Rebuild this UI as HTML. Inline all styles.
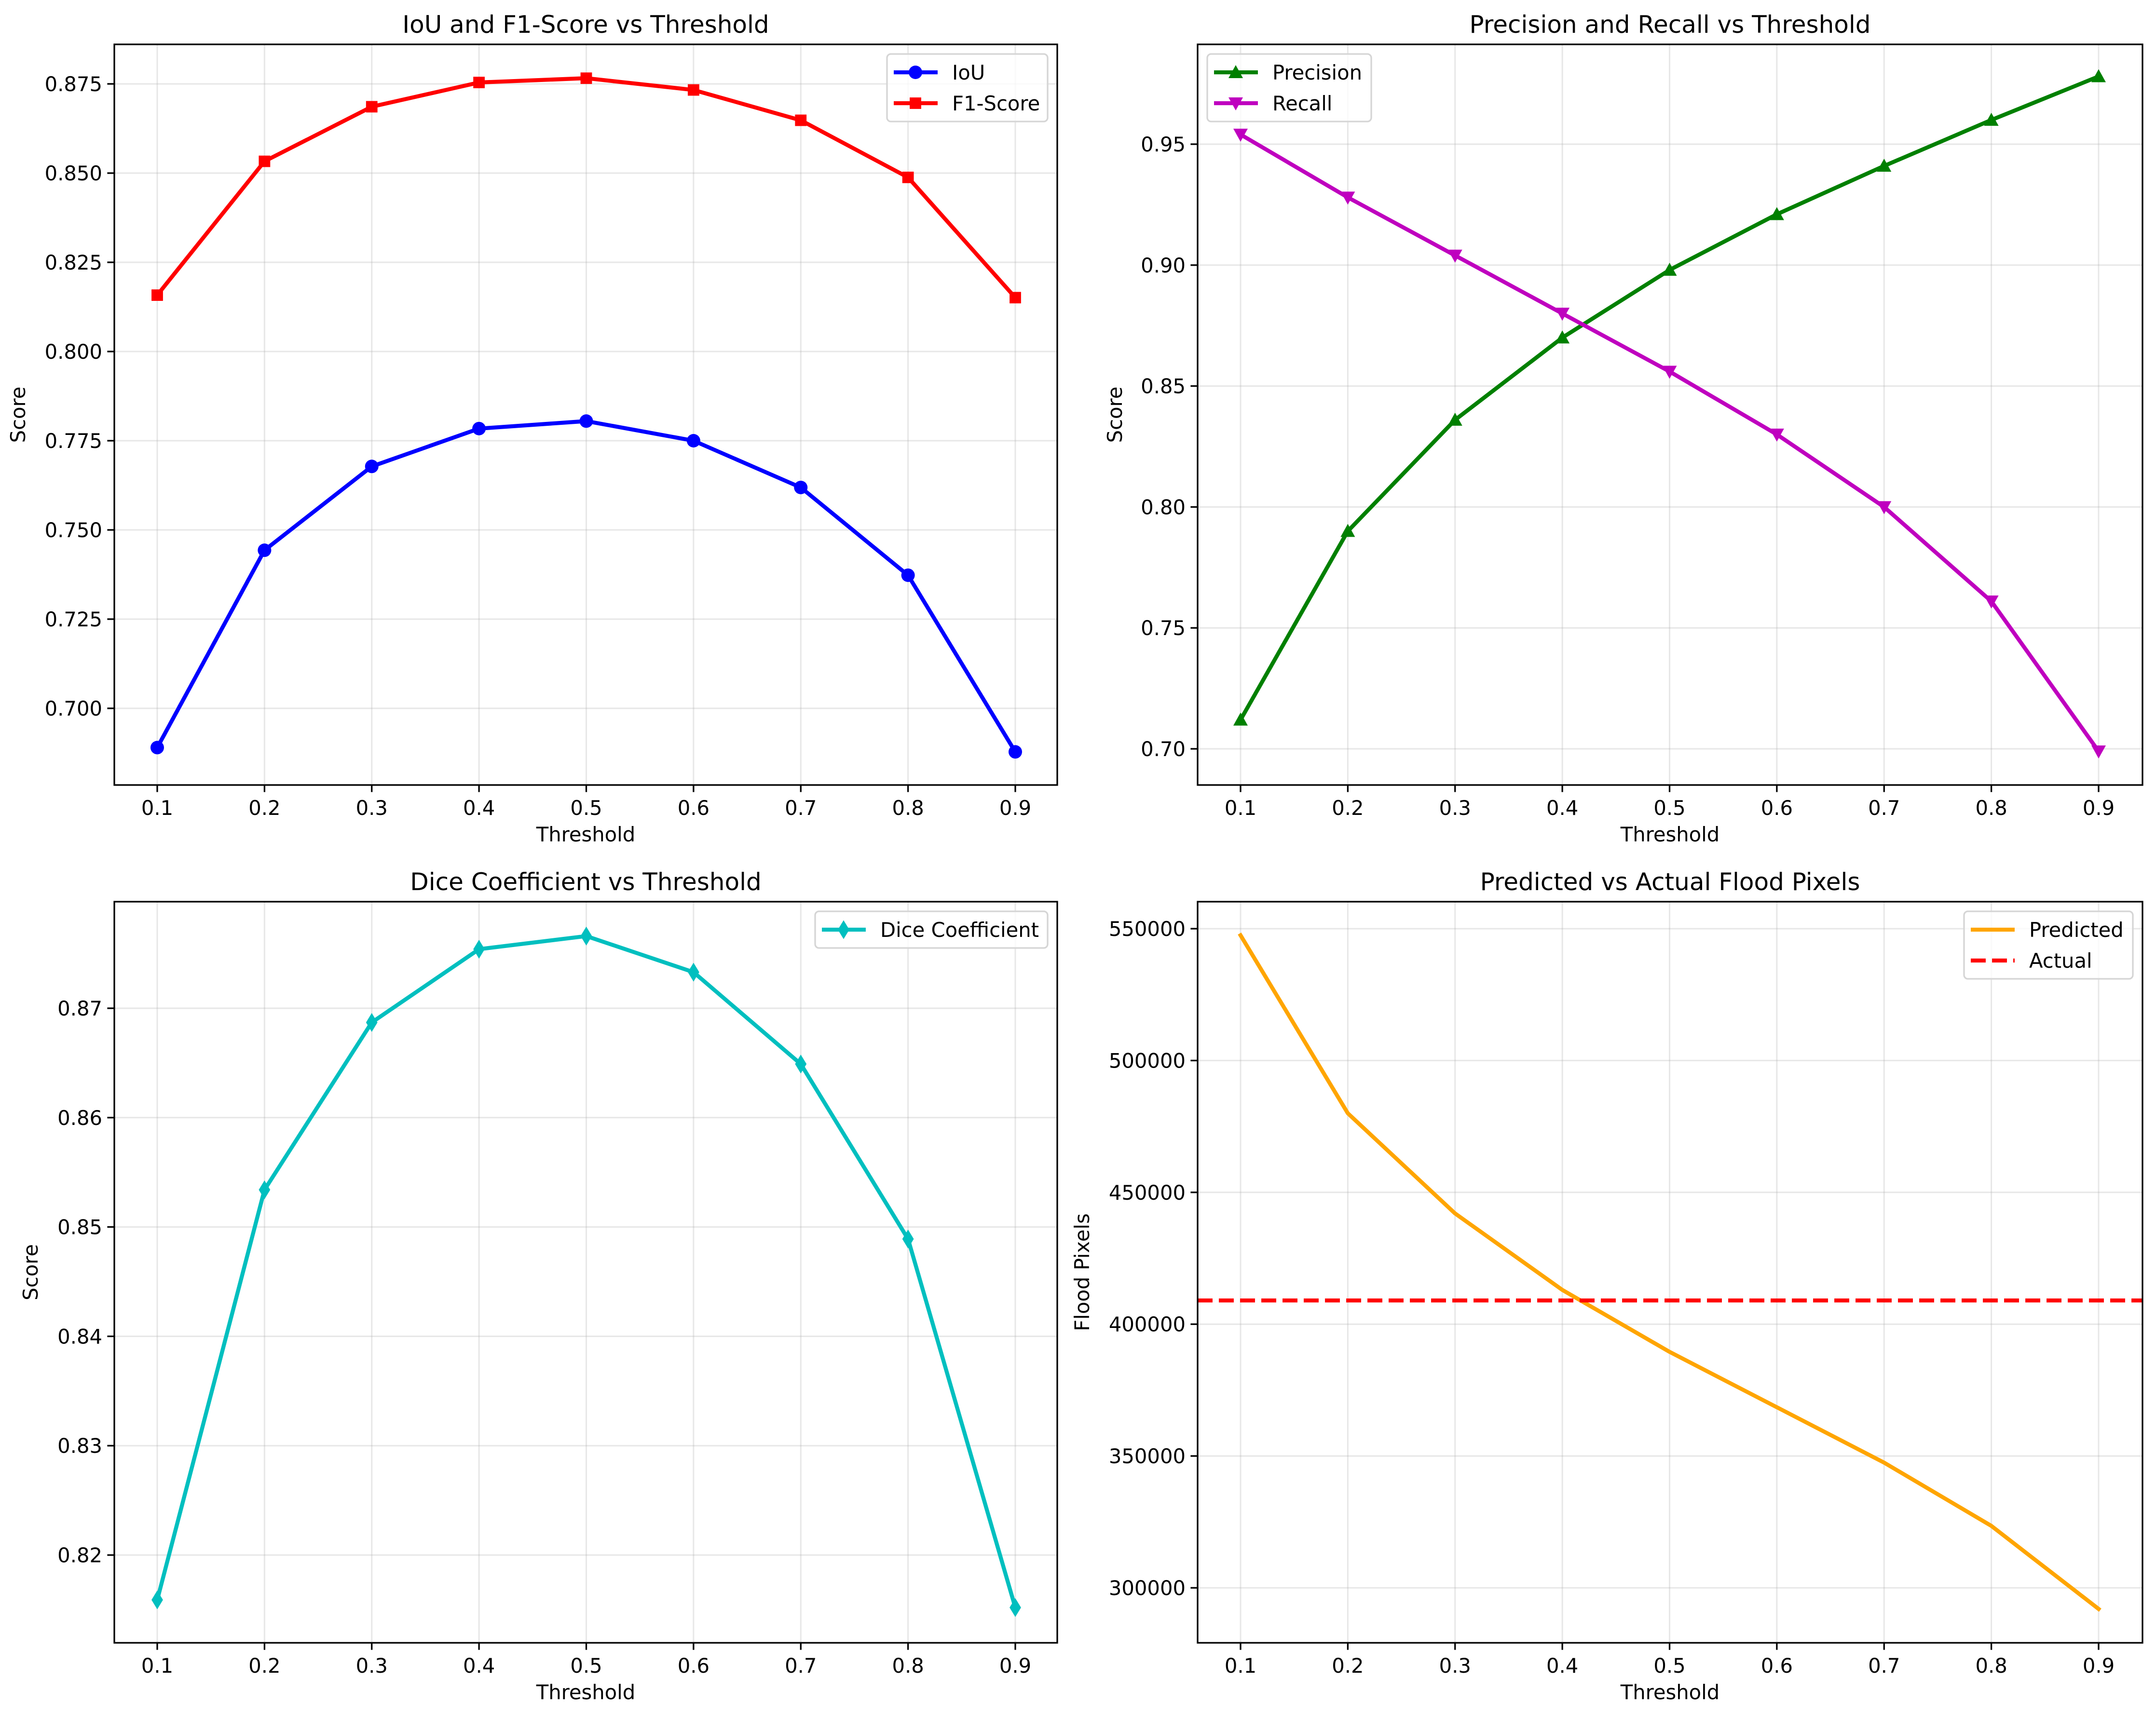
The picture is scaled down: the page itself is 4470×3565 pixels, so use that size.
<!DOCTYPE html>
<html><head><meta charset="utf-8"><style>
html,body{margin:0;padding:0;background:#fff;}
svg{display:block;font-family:"DejaVu Sans","Liberation Sans",sans-serif;}
</style></head><body>
<svg id="fig" width="4470" height="3565" viewBox="0 0 4470 3565" xmlns="http://www.w3.org/2000/svg"></svg>
<script>
const thresholds=[0.1,0.2,0.3,0.4,0.5,0.6,0.7,0.8,0.9];
const iouValues=[0.689,0.7443,0.7678,0.7784,0.7805,0.7750,0.7619,0.7373,0.6878];
const f1Values=[0.8158,0.8533,0.8686,0.8754,0.8766,0.8733,0.8648,0.8488,0.8151];
const precisionValues=[0.712,0.790,0.836,0.870,0.898,0.921,0.941,0.960,0.978];
const recallValues=[0.954,0.928,0.904,0.880,0.856,0.830,0.800,0.761,0.699];
const diceValues=[0.8159,0.8534,0.8687,0.8754,0.8766,0.8733,0.8649,0.8489,0.8152];
const predictedPixels=[547500,480000,442000,413000,389500,368500,347500,323500,292000];
const actualPixels=409000;
const xTickLabels=["0.1","0.2","0.3","0.4","0.5","0.6","0.7","0.8","0.9"];
const yTicks1=[0.700,0.725,0.750,0.775,0.800,0.825,0.850,0.875];
const yTicks2=[0.70,0.75,0.80,0.85,0.90,0.95];
const yTicks3=[0.82,0.83,0.84,0.85,0.86,0.87];
const yTicks4=[300000,350000,400000,450000,500000,550000];

const NS="http://www.w3.org/2000/svg";
const svg=document.getElementById('fig');
function mk(tag,attrs,parent){const e=document.createElementNS(NS,tag);for(const k in attrs)e.setAttribute(k,attrs[k]);(parent||svg).appendChild(e);return e;}
function txt(s,attrs,parent){const e=mk('text',attrs,parent);e.textContent=s;return e;}

function marker(g,type,x,y,color,r){
  let e;
  if(type==='o') e=mk('circle',{cx:x,cy:y,r:r,fill:color},g);
  else if(type==='s') e=mk('rect',{x:x-r*0.85,y:y-r*0.85,width:r*1.7,height:r*1.7,fill:color},g);
  else if(type==='^') e=mk('polygon',{points:`${x},${y-r} ${x-r},${y+r*0.8} ${x+r},${y+r*0.8}`,fill:color},g);
  else if(type==='v') e=mk('polygon',{points:`${x},${y+r} ${x-r},${y-r*0.8} ${x+r},${y-r*0.8}`,fill:color},g);
  else if(type==='d') e=mk('polygon',{points:`${x},${y-r*1.15} ${x+r*0.7},${y} ${x},${y+r*1.15} ${x-r*0.7},${y}`,fill:color},g);
  return e;
}

function panel(cfg){
  const g=mk('g',{});
  
  
  const L=cfg.L,R=cfg.R,T=cfg.T,B=cfg.B;
  const xs=v=>cfg.x0+(v-0.1)/0.8*(cfg.x9-cfg.x0);
  const ys=v=>cfg.ya+(v-cfg.va)/(cfg.vb-cfg.va)*(cfg.yb-cfg.ya);
  thresholds.forEach((t,i)=>{
    const gl=mk('line',{x1:xs(t),x2:xs(t),y1:T,y2:B,stroke:'#b0b0b0','stroke-opacity':0.3,'stroke-width':3},g);
    
    
  });
  cfg.yTicks.forEach(v=>{
    const gl=mk('line',{x1:L,x2:R,y1:ys(v),y2:ys(v),stroke:'#b0b0b0','stroke-opacity':0.3,'stroke-width':3},g);
    
    
  });
  cfg.series.forEach(s=>{
    const sg=mk('g',{},g);
    
    
    if(s.constant!==undefined){
      const l=mk('line',{x1:L,x2:R,y1:ys(s.constant),y2:ys(s.constant),stroke:s.color,'stroke-width':8.3,'stroke-dasharray':'31 13'},sg);
      
      
      return;
    }
    const pts=s.values.map((v,i)=>xs(thresholds[i])+','+ys(v)).join(' ');
    const pl=mk('polyline',{points:pts,fill:'none',stroke:s.color,'stroke-width':8.3,'stroke-linejoin':'round','stroke-linecap':'square'},sg);
    
    
    if(s.marker){
      s.values.forEach((v,i)=>{
        const m=marker(sg,s.marker,xs(thresholds[i]),ys(v),s.color,s.r||13);
        
        
      });
    }
  });
  const sp=mk('rect',{x:L,y:T,width:R-L,height:B-T,fill:'none',stroke:'#000','stroke-width':3.3},g);
  
  
  thresholds.forEach((t,i)=>{
    mk('line',{x1:xs(t),x2:xs(t),y1:B,y2:B+14.6,stroke:'#000','stroke-width':3.3},g);
    const tl=txt(xTickLabels[i],{x:xs(t),y:B+62,'font-size':41.7,'text-anchor':'middle',fill:'#000'},g);
    
    
  });
  cfg.yTicks.forEach((v,i)=>{
    mk('line',{x1:L-14.6,x2:L,y1:ys(v),y2:ys(v),stroke:'#000','stroke-width':3.3},g);
    const tl=txt(cfg.yLabels[i],{x:L-25,y:ys(v)+15,'font-size':41.7,'text-anchor':'end',fill:'#000'},g);
    
    
  });
  const tt=txt(cfg.title,{x:(L+R)/2,y:T-24,'font-size':50,'text-anchor':'middle',fill:'#000'},g);
  
  
  const xl=txt('Threshold',{x:(L+R)/2,y:B+117,'font-size':41.7,'text-anchor':'middle',fill:'#000'},g);
  
  
  const yl=txt(cfg.ylabel,{x:0,y:0,'font-size':41.7,'text-anchor':'middle',fill:'#000',transform:`translate(${cfg.ylx},${(T+B)/2}) rotate(-90)`},g);
  
  
  const lg=mk('g',{},g);
  
  
  const n=cfg.series.length;
  const lw=cfg.legendW, lh=n*64+12;
  const lx=cfg.legendLeft?L+20:R-20-lw, ly=T+20;
  mk('rect',{x:lx,y:ly,width:lw,height:lh,rx:8,fill:'#fff','fill-opacity':0.8,stroke:'#d5d5d5','stroke-width':3.3},lg);
  cfg.series.forEach((s,i)=>{
    const ey=ly+38+i*64;
    const le=mk('g',{},lg);
    
    
    mk('line',{x1:lx+14,x2:lx+105,y1:ey,y2:ey,stroke:s.color,'stroke-width':8.3,'stroke-dasharray':s.constant!==undefined?'31 13':'none'},le);
    if(s.marker) marker(le,s.marker,lx+59,ey,s.color,s.r||13);
    txt(s.label,{x:lx+135,y:ey+15,'font-size':41.7,fill:'#000'},le);
  });
}

panel({name:'iou-f1-panel',title:'IoU and F1-Score vs Threshold',ylabel:'Score',ylx:52,
  L:237,R:2192,T:92,B:1628,x0:326,x9:2105,ya:174,va:0.875,yb:1469,vb:0.700,
  yTicks:yTicks1,yLabels:yTicks1.map(v=>v.toFixed(3)),legendW:333,legendLeft:false,
  series:[{name:'iou',label:'IoU',values:iouValues,color:'#0000ff',marker:'o',r:14},
          {name:'f1-score',label:'F1-Score',values:f1Values,color:'#ff0000',marker:'s',r:14}]});
panel({name:'precision-recall-panel',title:'Precision and Recall vs Threshold',ylabel:'Score',ylx:2326,
  L:2483,R:4442,T:92,B:1628,x0:2572,x9:4351,ya:1553,va:0.70,yb:299,vb:0.95,
  yTicks:yTicks2,yLabels:yTicks2.map(v=>v.toFixed(2)),legendW:340,legendLeft:true,
  series:[{name:'precision',label:'Precision',values:precisionValues,color:'#008000',marker:'^',r:15},
          {name:'recall',label:'Recall',values:recallValues,color:'#bf00bf',marker:'v',r:15}]});
panel({name:'dice-panel',title:'Dice Coefficient vs Threshold',ylabel:'Score',ylx:78,
  L:237,R:2192,T:1870,B:3407,x0:326,x9:2105,ya:3225,va:0.82,yb:2091,vb:0.87,
  yTicks:yTicks3,yLabels:yTicks3.map(v=>v.toFixed(2)),legendW:482,legendLeft:false,
  series:[{name:'dice-coefficient',label:'Dice Coefficient',values:diceValues,color:'#00bfbf',marker:'d',r:17}]});
panel({name:'flood-pixels-panel',title:'Predicted vs Actual Flood Pixels',ylabel:'Flood Pixels',ylx:2258,
  L:2483,R:4442,T:1870,B:3407,x0:2572,x9:4351,ya:1926,va:550000,yb:3293,vb:300000,
  yTicks:yTicks4,yLabels:yTicks4.map(v=>String(v)),legendW:350,legendLeft:false,
  series:[{name:'predicted',label:'Predicted',values:predictedPixels,color:'#ffa500'},
          {name:'actual',label:'Actual',constant:actualPixels,color:'#ff0000'}]});
</script>
</body></html>
